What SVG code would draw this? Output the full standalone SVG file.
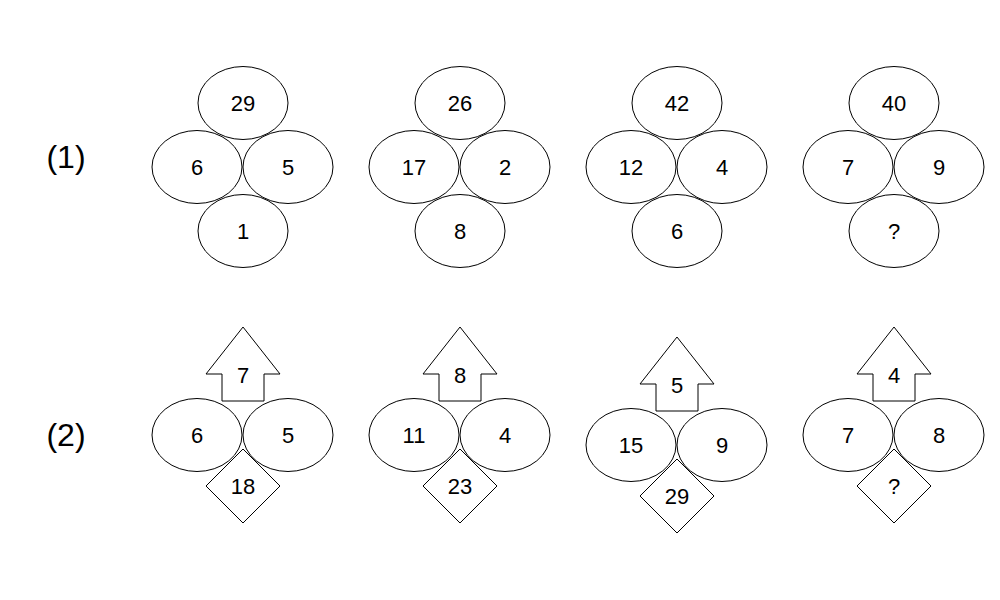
<svg xmlns="http://www.w3.org/2000/svg" xmlns:xlink="http://www.w3.org/1999/xlink" width="1000" height="600" viewBox="0 0 1000 600">
<style>
.s{fill:none;stroke:#000;stroke-width:1}
.t{font-family:"Liberation Sans",Arial,sans-serif;font-size:22px;fill:#000;text-anchor:middle}
.lbl{font-family:"Liberation Sans",Arial,sans-serif;font-size:32px;fill:#000;text-anchor:middle}
</style>
<defs>
<ellipse id="e" cx="0" cy="0" rx="45" ry="36.5"/>
<polygon id="arrow" points="0,0 37,47 21,47 21,74 -21,74 -21,47 -37,47"/>
<polygon id="dia" points="0,-37 37,0 0,37 -37,0"/>
</defs>
<rect width="1000" height="600" fill="#fff"/>
<g id="labels">
<text class="lbl" x="66" y="168">(1)</text>
<text class="lbl" x="66" y="446">(2)</text>
</g>
<g id="connectors"></g>

<!-- Row 1 -->
<g id="r1g1">
<use href="#e" class="s" x="243" y="103"/><text class="t" x="243" y="111">29</text>
<use href="#e" class="s" x="197" y="167"/><text class="t" x="197" y="175">6</text>
<use href="#e" class="s" x="288" y="167"/><text class="t" x="288" y="175">5</text>
<use href="#e" class="s" x="243" y="231"/><text class="t" x="243" y="239">1</text>
</g>
<g id="r1g2">
<use href="#e" class="s" x="460" y="103"/><text class="t" x="460" y="111">26</text>
<use href="#e" class="s" x="414" y="167"/><text class="t" x="414" y="175">17</text>
<use href="#e" class="s" x="505" y="167"/><text class="t" x="505" y="175">2</text>
<use href="#e" class="s" x="460" y="231"/><text class="t" x="460" y="239">8</text>
</g>
<g id="r1g3">
<use href="#e" class="s" x="677" y="103"/><text class="t" x="677" y="111">42</text>
<use href="#e" class="s" x="631" y="167"/><text class="t" x="631" y="175">12</text>
<use href="#e" class="s" x="722" y="167"/><text class="t" x="722" y="175">4</text>
<use href="#e" class="s" x="677" y="231"/><text class="t" x="677" y="239">6</text>
</g>
<g id="r1g4">
<use href="#e" class="s" x="894" y="103"/><text class="t" x="894" y="111">40</text>
<use href="#e" class="s" x="848" y="167"/><text class="t" x="848" y="175">7</text>
<use href="#e" class="s" x="939" y="167"/><text class="t" x="939" y="175">9</text>
<use href="#e" class="s" x="894" y="231"/><text class="t" x="894" y="239">?</text>
</g>

<!-- Row 2 -->
<g id="r2g1">
<use href="#arrow" class="s" x="243" y="327"/><text class="t" x="243" y="383">7</text>
<use href="#e" class="s" x="197" y="435"/><text class="t" x="197" y="443">6</text>
<use href="#e" class="s" x="288" y="435"/><text class="t" x="288" y="443">5</text>
<use href="#dia" class="s" x="243" y="486"/><text class="t" x="243" y="494">18</text>
</g>
<g id="r2g2">
<use href="#arrow" class="s" x="460" y="327"/><text class="t" x="460" y="383">8</text>
<use href="#e" class="s" x="414" y="435"/><text class="t" x="414" y="443">11</text>
<use href="#e" class="s" x="505" y="435"/><text class="t" x="505" y="443">4</text>
<use href="#dia" class="s" x="460" y="486"/><text class="t" x="460" y="494">23</text>
</g>
<g id="r2g3">
<use href="#arrow" class="s" x="677" y="337"/><text class="t" x="677" y="393">5</text>
<use href="#e" class="s" x="631" y="445"/><text class="t" x="631" y="453">15</text>
<use href="#e" class="s" x="722" y="445"/><text class="t" x="722" y="453">9</text>
<use href="#dia" class="s" x="677" y="496"/><text class="t" x="677" y="504">29</text>
</g>
<g id="r2g4">
<use href="#arrow" class="s" x="894" y="327"/><text class="t" x="894" y="383">4</text>
<use href="#e" class="s" x="848" y="435"/><text class="t" x="848" y="443">7</text>
<use href="#e" class="s" x="939" y="435"/><text class="t" x="939" y="443">8</text>
<use href="#dia" class="s" x="894" y="486"/><text class="t" x="894" y="494">?</text>
</g>
</svg>
